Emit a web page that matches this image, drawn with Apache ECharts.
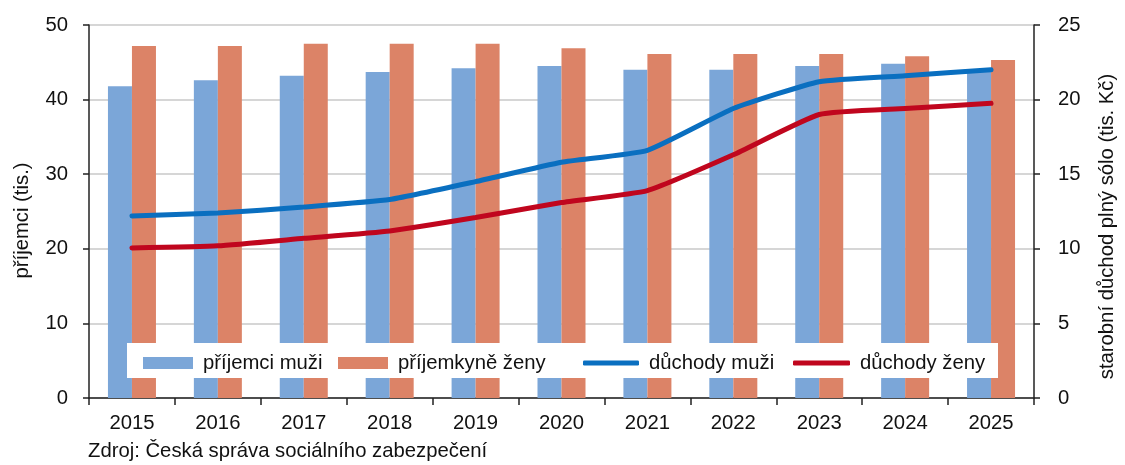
<!DOCTYPE html>
<html>
<head>
<meta charset="utf-8">
<script src="https://cdn.jsdelivr.net/npm/echarts@6/dist/echarts.min.js"></script>
<style>
html,body{margin:0;padding:0;background:#fff;}
#c{width:1125px;height:465px;}
</style>
</head>
<body>
<div id="c"></div>
<script>
const years = ['2015','2016','2017','2018','2019','2020','2021','2022','2023','2024','2025'];
const prijemciMuzi = [41.8, 42.6, 43.2, 43.7, 44.2, 44.5, 44.0, 44.0, 44.5, 44.8, 44.1];
const prijemkyneZeny = [47.2, 47.2, 47.5, 47.5, 47.5, 46.9, 46.1, 46.1, 46.1, 45.8, 45.3];
const duchodyMuzi = [12.2, 12.4, 12.8, 13.3, 14.5, 15.8, 16.6, 19.4, 21.2, 21.6, 22.0];
const duchodyZeny = [10.06, 10.2, 10.7, 11.2, 12.1, 13.1, 13.9, 16.3, 19.0, 19.4, 19.75];
const leftTicks = [0, 10, 20, 30, 40, 50];
const rightTicks = [0, 5, 10, 15, 20, 25];
const names = ['příjemci muži', 'příjemkyně ženy', 'důchody muži', 'důchody ženy'];

const FONT = 'Liberation Sans, Arial, sans-serif';
const FS = 20.3;
const TXT = '#111';
const chart = echarts.init(document.getElementById('c'), null, {renderer: 'canvas'});

const legendLefts = [143, 338, 583, 793];
const legendW = [50, 50, 56, 57];

chart.setOption({
  animation: false,
  textStyle: {fontFamily: FONT},
  grid: {left: 89, right: 86, top: 25, bottom: 67, containLabel: false},
  graphic: [
    {type: 'rect', z: 3, shape: {x: 127, y: 343, width: 871, height: 35}, style: {fill: '#ffffff'}},
    {type: 'text', left: 88, top: 441, style: {text: 'Zdroj: Česká správa sociálního zabezpečení', font: FS + 'px ' + FONT, fill: TXT}}
  ],
  legend: names.map((n, i) => ({
    data: [{name: n, icon: i < 2 ? 'rect' : 'roundRect'}],
    left: legendLefts[i] - 5,
    top: 348,
    padding: 5,
    itemWidth: legendW[i],
    itemHeight: i < 2 ? 12 : 5,
    itemGap: 0,
    z: 5,
    selectedMode: false,
    textStyle: {fontFamily: FONT, fontSize: FS, color: TXT, padding: [0, 0, 0, 5]}
  })),
  xAxis: {
    type: 'category',
    data: years,
    axisLine: {lineStyle: {color: '#222', width: 1.5}},
    axisTick: {show: true, interval: 0, length: 7, lineStyle: {color: '#222', width: 1.5}},
    axisLabel: {fontFamily: FONT, fontSize: FS, color: TXT, margin: 15, interval: 0},
    splitLine: {show: false}
  },
  yAxis: [
    {
      type: 'value', min: 0, max: 50, interval: 10,
      name: 'příjemci (tis.)', nameLocation: 'middle', nameGap: 57, nameRotate: 90,
      nameTextStyle: {fontFamily: FONT, fontSize: FS, color: TXT, padding: [0, 18, 0, 0]},
      axisLine: {show: true, lineStyle: {color: '#222', width: 1.5}},
      axisTick: {show: true, length: 6, lineStyle: {color: '#222', width: 1.5}},
      axisLabel: {fontFamily: FONT, fontSize: FS, color: TXT, margin: 21,
        formatter: v => leftTicks.includes(v) ? String(v) : ''},
      splitLine: {show: true, lineStyle: {color: '#c8c8c8', width: 1.5}}
    },
    {
      type: 'value', min: 0, max: 25, interval: 5, position: 'right',
      name: 'starobní důchod plný sólo (tis. Kč)', nameLocation: 'middle', nameGap: 63, nameRotate: 90,
      nameTextStyle: {fontFamily: FONT, fontSize: FS, color: TXT, padding: [0, 30, 0, 0]},
      axisLine: {show: true, lineStyle: {color: '#222', width: 1.5}},
      axisTick: {show: true, length: 6, inside: false, lineStyle: {color: '#222', width: 1.5}},
      axisLabel: {fontFamily: FONT, fontSize: FS, color: TXT, margin: 24,
        formatter: v => rightTicks.includes(v) ? String(v) : ''},
      splitLine: {show: false}
    }
  ],
  series: [
    {name: names[0], type: 'bar', data: prijemciMuzi, yAxisIndex: 0, barWidth: 24, barGap: '0%',
      itemStyle: {color: '#7ba6d8'}, z: 2},
    {name: names[1], type: 'bar', data: prijemkyneZeny, yAxisIndex: 0, barWidth: 24, barGap: '0%',
      itemStyle: {color: '#dc8367'}, z: 2},
    {name: names[2], type: 'line', data: duchodyMuzi, yAxisIndex: 1, smooth: 0.15, symbol: 'none',
      lineStyle: {color: '#0a6fc0', width: 5, cap: 'round'}, itemStyle: {color: '#0a6fc0'}, z: 6},
    {name: names[3], type: 'line', data: duchodyZeny, yAxisIndex: 1, smooth: 0.15, symbol: 'none',
      lineStyle: {color: '#c0061e', width: 5, cap: 'round'}, itemStyle: {color: '#c0061e'}, z: 6}
  ]
});
</script>
</body>
</html>
